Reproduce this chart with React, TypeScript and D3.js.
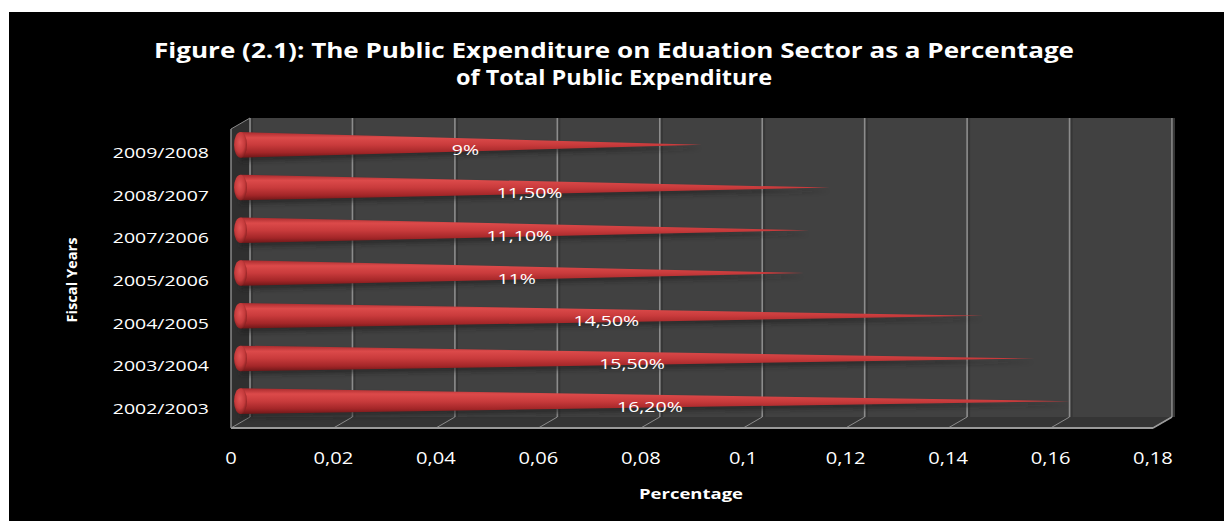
import React from "react";
import * as d3 from "d3";

const categories = ["2009/2008", "2008/2007", "2007/2006", "2005/2006", "2004/2005", "2003/2004", "2002/2003"];
const values = [0.09, 0.115, 0.111, 0.11, 0.145, 0.155, 0.162];
const valueLabels = ["9%", "11,50%", "11,10%", "11%", "14,50%", "15,50%", "16,20%"];
const tickValues = [0, 0.02, 0.04, 0.06, 0.08, 0.1, 0.12, 0.14, 0.16, 0.18];
const tickLabels = ["0", "0,02", "0,04", "0,06", "0,08", "0,1", "0,12", "0,14", "0,16", "0,18"];
const titleLines = [
  "Figure (2.1): The Public Expenditure on Eduation Sector as a Percentage",
  "of Total Public Expenditure",
];

const W = 1224;
const H = 521;
const DX = 19;
const DY = -11;

export default function App() {
  const x = d3.scaleLinear().domain([0, 0.18]).range([231, 1153]);
  const yFront = d3.scaleBand<string>().domain(categories).range([129, 428]);
  const bw = yFront.bandwidth();
  const floorFront = 428;
  const floorBack = floorFront + DY;
  const wallTop = 118;
  const frontTop = wallTop - DY;
  const x0 = x(0);
  const x1 = x(0.18);

  const sx = 1.3;
  const font = "'Open Sans', 'DejaVu Sans', sans-serif";

  const conePath = (v: number, cy: number) => {
    const bx = x(0) + DX / 2;
    const tx = x(v) + DX / 2;
    const r = 12.8;
    const p = d3.path();
    p.moveTo(bx, cy - r);
    p.lineTo(tx, cy);
    p.lineTo(bx, cy + r);
    p.closePath();
    return p.toString();
  };

  return (
    <svg
      width={W}
      height={H}
      style={{ position: "fixed", left: 0, top: 0, display: "block" }}
      xmlns="http://www.w3.org/2000/svg"
    >
      <defs>
        <linearGradient id="coneGrad" x1="0" y1="0" x2="0" y2="1">
          <stop offset="0%" stopColor="#a82a2d" />
          <stop offset="22%" stopColor="#dc4a4a" />
          <stop offset="50%" stopColor="#c93b3c" />
          <stop offset="80%" stopColor="#a32628" />
          <stop offset="100%" stopColor="#6e1718" />
        </linearGradient>
        <radialGradient id="capGrad" cx="0.45" cy="0.4" r="0.65">
          <stop offset="0%" stopColor="#e25454" />
          <stop offset="60%" stopColor="#c43a3b" />
          <stop offset="100%" stopColor="#7a1a1b" />
        </radialGradient>
        <filter id="blur" x="-10%" y="-50%" width="120%" height="200%">
          <feGaussianBlur stdDeviation="2" />
        </filter>
      </defs>

      <rect x={0} y={0} width={W} height={H} fill="#ffffff" />
      <rect x={9} y={12} width={W - 9} height={H - 12} fill="#000000" />

      {/* title */}
      {titleLines.map((t, i) => (
        <text
          key={t}
          x={614}
          y={i === 0 ? 58 : 85}
          textAnchor="middle"
          fill="#ffffff"
          fontFamily={font}
          fontWeight="bold"
          fontSize={22}
          textLength={i === 0 ? 920 : 316}
          lengthAdjust="spacingAndGlyphs"
        >
          {t}
        </text>
      ))}

      {/* back wall */}
      <rect x={x0 + DX} y={wallTop} width={x1 - x0} height={floorBack - wallTop} fill="#414141" />
      {/* left wall */}
      <polygon
        points={`${x0},${frontTop} ${x0 + DX},${wallTop} ${x0 + DX},${floorBack} ${x0},${floorFront}`}
        fill="#2f2f2f"
      />
      {/* floor */}
      <polygon
        points={`${x0},${floorFront} ${x1},${floorFront} ${x1 + DX},${floorBack} ${x0 + DX},${floorBack}`}
        fill="#353535"
      />

      {/* gridlines */}
      {tickValues.map((t) => (
        <g key={t}>
          <line
            x1={x(t) + DX + 2}
            x2={x(t) + DX + 2}
            y1={wallTop}
            y2={floorBack}
            stroke="#363636"
            strokeWidth={2}
          />
          <line
            x1={x(t) + DX}
            x2={x(t) + DX}
            y1={wallTop}
            y2={floorBack}
            stroke="#8c8c8c"
            strokeWidth={1.6}
          />
          <line
            x1={x(t) + DX}
            x2={x(t)}
            y1={floorBack}
            y2={floorFront}
            stroke="#8c8c8c"
            strokeWidth={1}
          />
        </g>
      ))}
      {/* axis edges */}
      <line x1={x0} x2={x1} y1={floorFront} y2={floorFront} stroke="#9a9a9a" strokeWidth={2} />
      <line x1={x0} x2={x0} y1={frontTop} y2={floorFront} stroke="#8a8a8a" strokeWidth={1.5} />
      <line x1={x0} x2={x0 + DX} y1={frontTop} y2={wallTop} stroke="#8a8a8a" strokeWidth={1} />
      <line x1={x1} x2={x1 + DX} y1={floorFront} y2={floorBack} stroke="#9a9a9a" strokeWidth={1.5} />

      {/* cones */}
      {categories.map((c, i) => {
        const cy = (yFront(c) as number) + bw / 2 + DY / 2;
        const v = values[i];
        return (
          <g key={c}>
            <path
              d={conePath(v, cy + 4)}
              fill="#1e1e1e"
              opacity={0.55}
              filter="url(#blur)"
            />
            <path d={conePath(v, cy)} fill="url(#coneGrad)" />
            <ellipse cx={x(0) + DX / 2} cy={cy} rx={6.5} ry={12.8} fill="url(#capGrad)" />
          </g>
        );
      })}

      {/* value labels */}
      {categories.map((c, i) => {
        const cy = (yFront(c) as number) + bw / 2 + DY / 2;
        return (
          <text
            key={c + "-v"}
            transform={`translate(${x(values[i] / 2) + 4},${cy + 10.5}) scale(${sx},1)`}
            textAnchor="middle"
            fill="#ffffff"
            fontFamily={font}
            fontSize={15}
          >
            {valueLabels[i]}
          </text>
        );
      })}

      {/* category labels */}
      {categories.map((c) => {
        const cy = (yFront(c) as number) + bw / 2 + DY / 2;
        return (
          <text
            key={c + "-l"}
            transform={`translate(209,${cy + 13}) scale(${sx},1)`}
            textAnchor="end"
            fill="#ffffff"
            fontFamily={font}
            fontSize={15}
          >
            {c}
          </text>
        );
      })}

      {/* tick labels */}
      {tickValues.map((t, i) => (
        <text
          key={"t" + t}
          transform={`translate(${x(t)},464) scale(${sx},1)`}
          textAnchor="middle"
          fill="#ffffff"
          fontFamily={font}
          fontSize={15.5}
        >
          {tickLabels[i]}
        </text>
      ))}

      {/* axis titles */}
      <text
        x={691}
        y={499}
        textAnchor="middle"
        fill="#ffffff"
        fontFamily={font}
        fontWeight="bold"
        fontSize={14}
        textLength={104}
        lengthAdjust="spacingAndGlyphs"
      >
        Percentage
      </text>
      <text
        transform="translate(77,280) rotate(-90)"
        textAnchor="middle"
        fill="#ffffff"
        fontFamily={font}
        fontWeight="bold"
        fontSize={14}
        textLength={85}
        lengthAdjust="spacingAndGlyphs"
      >
        Fiscal Years
      </text>
    </svg>
  );
}
